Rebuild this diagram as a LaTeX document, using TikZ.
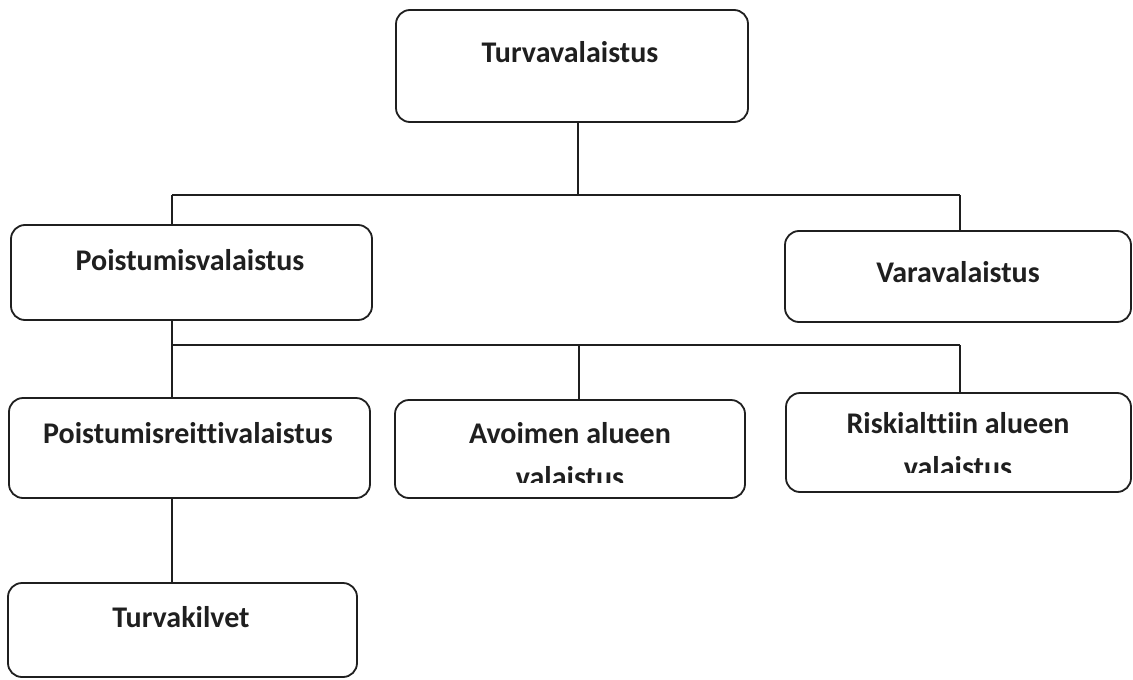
\documentclass[tikz,border=0pt]{standalone}
\usepackage{fontspec}
\setmainfont{Carlito}[Ligatures=NoCommon]
\begin{document}
\begin{tikzpicture}[x=1pt,y=-1pt,
  box/.style={draw=black!88, line width=1.8pt, rounded corners=14pt, inner sep=0pt},
  lbl/.style={anchor=base, inner sep=0pt, font=\fontsize{30}{36}\selectfont\bfseries, text=black!88},
  conn/.style={draw=black!88, line width=1.8pt}]
\useasboundingbox (0,0) rectangle (1133,680);
% boxes
\node[box, minimum width=352pt, minimum height=112pt] (T) at (572,66) {};
\node[box, minimum width=361pt, minimum height=95pt] (P) at (191.5,272.5) {};
\node[box, minimum width=346pt, minimum height=91pt] (V) at (958,276.5) {};
\node[box, minimum width=361pt, minimum height=100pt] (PR) at (189.5,448) {};
\node[box, minimum width=350pt, minimum height=98pt] (A) at (570,449) {};
\node[box, minimum width=345pt, minimum height=99pt] (R) at (958.5,442.5) {};
\node[box, minimum width=349pt, minimum height=94pt] (TK) at (182.5,630) {};
% labels
\node[lbl] (tT) at (570,62) {Turvavalaistus};
\node[lbl] (tP) at (190,270) {Poistumisvalaistus};
\node[lbl] (tV) at (958,282) {Varavalaistus};
\node[lbl] (tPR) at (188,443) {Poistumisreittivalaistus};
\node[lbl] (tTK) at (181,627) {Turvakilvet};
\node[lbl] (tA1) at (570,443) {Avoimen alueen};
\node[lbl] (tR1) at (958,433) {Riskialttiin alueen};
\begin{scope}
  \clip (395,400) rectangle (745,482);
  \node[lbl] (tA2) at (570,487) {valaistus};
\end{scope}
\begin{scope}
  \clip (786,393) rectangle (1131,472);
  \node[lbl] (tR2) at (958,477) {valaistus};
\end{scope}
% connectors
\coordinate (b1) at (578,195);
\coordinate (b1l) at (172,195);
\coordinate (b1r) at (960,195);
\coordinate (b2) at (172,345);
\coordinate (b2m) at (579,345);
\coordinate (b2r) at (960,345);
\draw[conn] (T.south -| b1) -- (b1);
\draw[conn] (b1l) -- (b1r);
\draw[conn] (b1l) -- (P.north -| b1l);
\draw[conn] (b1r) -- (V.north -| b1r);
\draw[conn] (P.south -| b2) -- (PR.north -| b2);
\draw[conn] (b2) -- (b2r);
\draw[conn] (b2m) -- (A.north -| b2m);
\draw[conn] (b2r) -- (R.north -| b2r);
\draw[conn] (PR.south -| b2) -- (TK.north -| b2);
\end{tikzpicture}
\end{document}
